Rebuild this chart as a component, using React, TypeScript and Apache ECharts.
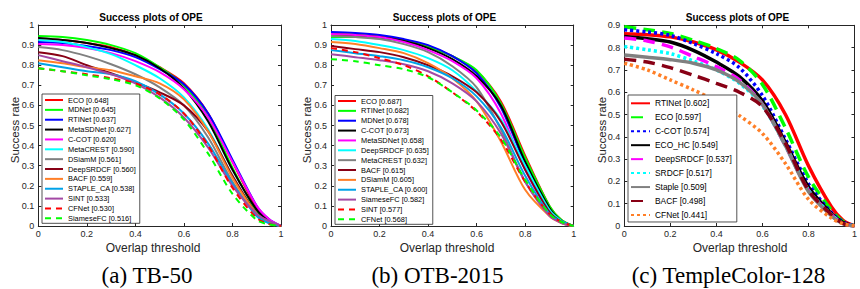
import React, { useEffect, useRef } from "react";
import * as echarts from "echarts";

// Overlap thresholds at which the success rates were read
const thresholds = [0, 0.1, 0.2, 0.3, 0.4, 0.5, 0.6, 0.7, 0.8, 0.9, 0.95, 1];

// (a) TB-50
const tb50Names = [
  "ECO [0.648]", "MDNet [0.645]", "RTINet [0.637]", "MetaSDNet [0.627]", "C-COT [0.620]",
  "MetaCREST [0.590]", "DSiamM [0.561]", "DeepSRDCF [0.560]", "BACF [0.559]",
  "STAPLE_CA [0.538]", "SINT [0.533]", "CFNet [0.530]", "SiameseFC [0.516]",
];
const a_ECO = [0.93, 0.925, 0.91, 0.89, 0.85, 0.79, 0.71, 0.56, 0.32, 0.09, 0.03, 0];
const a_MDNet = [0.945, 0.94, 0.925, 0.9, 0.86, 0.79, 0.7, 0.54, 0.29, 0.07, 0.02, 0];
const a_RTINet = [0.915, 0.91, 0.895, 0.875, 0.84, 0.78, 0.705, 0.56, 0.33, 0.1, 0.035, 0];
const a_MetaSDNet = [0.935, 0.925, 0.91, 0.885, 0.85, 0.785, 0.685, 0.52, 0.28, 0.08, 0.025, 0];
const a_CCOT = [0.905, 0.9, 0.885, 0.86, 0.82, 0.765, 0.68, 0.54, 0.32, 0.1, 0.035, 0];
const a_MetaCREST = [0.925, 0.915, 0.89, 0.855, 0.8, 0.735, 0.64, 0.48, 0.25, 0.06, 0.02, 0];
const a_DSiamM = [0.89, 0.875, 0.845, 0.805, 0.755, 0.69, 0.6, 0.44, 0.22, 0.05, 0.015, 0];
const a_DeepSRDCF = [0.865, 0.845, 0.8, 0.76, 0.715, 0.665, 0.6, 0.47, 0.25, 0.06, 0.02, 0];
const a_BACF = [0.825, 0.81, 0.79, 0.775, 0.745, 0.71, 0.63, 0.47, 0.24, 0.06, 0.02, 0];
const a_STAPLE_CA = [0.81, 0.79, 0.77, 0.755, 0.72, 0.655, 0.56, 0.41, 0.21, 0.05, 0.015, 0];
const a_SINT = [0.85, 0.82, 0.79, 0.755, 0.71, 0.64, 0.54, 0.39, 0.2, 0.06, 0.025, 0];
const a_CFNet = [0.785, 0.77, 0.755, 0.735, 0.71, 0.655, 0.56, 0.4, 0.19, 0.04, 0.01, 0];
const a_SiameseFC = [0.785, 0.77, 0.75, 0.73, 0.7, 0.635, 0.53, 0.36, 0.16, 0.03, 0.008, 0];
const tb50Values = [
  a_ECO, a_MDNet, a_RTINet, a_MetaSDNet, a_CCOT, a_MetaCREST, a_DSiamM,
  a_DeepSRDCF, a_BACF, a_STAPLE_CA, a_SINT, a_CFNet, a_SiameseFC,
];

// (b) OTB-2015
const otbNames = [
  "ECO [0.687]", "RTINet [0.682]", "MDNet [0.678]", "C-COT [0.673]", "MetaSDNet [0.658]",
  "DeepSRDCF [0.635]", "MetaCREST [0.632]", "BACF [0.615]", "DSiamM [0.605]",
  "STAPLE_CA [0.600]", "SiameseFC [0.582]", "SINT [0.577]", "CFNet [0.568]",
];
const b_ECO = [0.95, 0.945, 0.94, 0.925, 0.895, 0.845, 0.77, 0.62, 0.35, 0.1, 0.03, 0];
const b_RTINet = [0.94, 0.94, 0.935, 0.92, 0.89, 0.845, 0.775, 0.61, 0.34, 0.1, 0.03, 0];
const b_MDNet = [0.965, 0.96, 0.95, 0.93, 0.9, 0.845, 0.76, 0.59, 0.31, 0.08, 0.025, 0];
const b_CCOT = [0.955, 0.95, 0.94, 0.92, 0.885, 0.83, 0.745, 0.6, 0.32, 0.09, 0.025, 0];
const b_MetaSDNet = [0.955, 0.95, 0.94, 0.915, 0.875, 0.82, 0.735, 0.56, 0.28, 0.07, 0.02, 0];
const b_DeepSRDCF = [0.93, 0.92, 0.9, 0.875, 0.835, 0.775, 0.67, 0.53, 0.3, 0.08, 0.025, 0];
const b_MetaCREST = [0.945, 0.94, 0.93, 0.905, 0.865, 0.795, 0.69, 0.48, 0.22, 0.06, 0.015, 0];
const b_BACF = [0.895, 0.88, 0.865, 0.84, 0.8, 0.745, 0.665, 0.52, 0.28, 0.07, 0.02, 0];
const b_DSiamM = [0.915, 0.905, 0.885, 0.86, 0.81, 0.735, 0.62, 0.42, 0.18, 0.05, 0.015, 0];
const b_STAPLE_CA = [0.875, 0.86, 0.845, 0.825, 0.79, 0.735, 0.645, 0.49, 0.25, 0.06, 0.02, 0];
const b_SiameseFC = [0.855, 0.84, 0.825, 0.805, 0.77, 0.71, 0.62, 0.46, 0.22, 0.05, 0.015, 0];
const b_SINT = [0.885, 0.865, 0.835, 0.8, 0.745, 0.665, 0.57, 0.43, 0.22, 0.06, 0.02, 0];
const b_CFNet = [0.83, 0.82, 0.8, 0.78, 0.74, 0.665, 0.575, 0.44, 0.23, 0.06, 0.02, 0];
const otbValues = [
  b_ECO, b_RTINet, b_MDNet, b_CCOT, b_MetaSDNet, b_DeepSRDCF, b_MetaCREST,
  b_BACF, b_DSiamM, b_STAPLE_CA, b_SiameseFC, b_SINT, b_CFNet,
];

// (c) TempleColor-128
const tcNames = [
  "RTINet [0.602]", "ECO [0.597]", "C-COT [0.574]", "ECO_HC [0.549]", "DeepSRDCF [0.537]",
  "SRDCF [0.517]", "Staple [0.509]", "BACF [0.498]", "CFNet [0.441]",
];
const c_RTINet = [0.862, 0.858, 0.848, 0.825, 0.79, 0.735, 0.655, 0.5, 0.27, 0.085, 0.025, 0];
const c_ECO = [0.893, 0.88, 0.863, 0.833, 0.796, 0.743, 0.635, 0.44, 0.22, 0.07, 0.02, 0];
const c_CCOT = [0.88, 0.87, 0.855, 0.818, 0.773, 0.71, 0.585, 0.39, 0.19, 0.06, 0.018, 0];
const c_ECO_HC = [0.85, 0.84, 0.825, 0.788, 0.735, 0.67, 0.56, 0.375, 0.175, 0.055, 0.015, 0];
const c_DeepSRDCF = [0.843, 0.83, 0.803, 0.76, 0.715, 0.655, 0.545, 0.36, 0.16, 0.05, 0.012, 0];
const c_SRDCF = [0.805, 0.79, 0.773, 0.74, 0.7, 0.64, 0.54, 0.36, 0.16, 0.05, 0.012, 0];
const c_Staple = [0.767, 0.757, 0.746, 0.73, 0.7, 0.645, 0.545, 0.36, 0.155, 0.045, 0.01, 0];
const c_BACF = [0.748, 0.735, 0.71, 0.676, 0.64, 0.6, 0.535, 0.37, 0.16, 0.05, 0.012, 0];
const c_CFNet = [0.73, 0.7, 0.655, 0.61, 0.56, 0.495, 0.415, 0.28, 0.12, 0.035, 0.01, 0];
const tcValues = [c_RTINet, c_ECO, c_CCOT, c_ECO_HC, c_DeepSRDCF, c_SRDCF, c_Staple, c_BACF, c_CFNet];

// Styles
const otbColors = [
  "#ff0000", "#00ff00", "#0000ff", "#000000", "#ff00ff", "#00ffff", "#808080",
  "#880015", "#ff7f27", "#00a2e8", "#a349a4", "#ff0000", "#00ff00",
];
const otbDashed = [false, false, false, false, false, false, false, false, false, false, false, true, true];
const tcColors = ["#ff0000", "#00ff00", "#0000ff", "#000000", "#ff00ff", "#00ffff", "#808080", "#880015", "#ff7f27"];
const tcTypes = ["solid", "dashed", "dotted", "solid", "dashed", "dotted", "solid", "dashed", "dotted"];

const AXIS = "#262626";
const SANS = '"Liberation Sans", Arial, Helvetica, sans-serif';
const SERIF = '"Liberation Serif", "Times New Roman", serif';

const panels = [
  { left: 38.3, top: 25, width: 242.7, height: 201, ymax: 1 },
  { left: 331, top: 25, width: 242.7, height: 201, ymax: 1 },
  { left: 624.3, top: 25.3, width: 241, height: 200.7, ymax: 0.9 },
];

function buildOption() {
  const grid: any[] = [];
  const xAxis: any[] = [];
  const yAxis: any[] = [];
  panels.forEach((p, i) => {
    grid.push({ left: p.left, top: p.top, width: p.width, height: p.height, containLabel: false });
    const common = {
      type: "value",
      gridIndex: i,
      min: 0,
      splitLine: { show: false },
      axisLine: { show: true, onZero: false, lineStyle: { color: AXIS, width: 1 } },
      axisTick: { show: true, inside: true, length: 3, lineStyle: { color: AXIS } },
    };
    xAxis.push({
      ...common, position: "bottom", max: 1, interval: 0.2,
      axisLabel: { show: true, color: AXIS, fontSize: 9, fontFamily: SANS, margin: 3 },
    });
    xAxis.push({ ...common, position: "top", max: 1, interval: 0.2, axisLabel: { show: false } });
    yAxis.push({
      ...common, position: "left", max: p.ymax, interval: 0.1,
      axisLabel: { show: true, color: AXIS, fontSize: 9, fontFamily: SANS, margin: 4 },
    });
    yAxis.push({ ...common, position: "right", max: p.ymax, interval: 0.1, axisLabel: { show: false } });
  });

  const series: any[] = [];
  const addSeries = (names: string[], values: number[][], panel: number, styleFn: (k: number) => any) => {
    names.forEach((name, k) => {
      const ls = styleFn(k);
      series.push({
        type: "line",
        name,
        xAxisIndex: panel * 2,
        yAxisIndex: panel * 2,
        data: thresholds.map((t, j) => [t, values[k][j]]),
        symbol: "none",
        showSymbol: false,
        smooth: 0.3,
        lineStyle: ls,
        itemStyle: { color: ls.color },
        color: ls.color,
      });
    });
  };
  const otbStyle = (k: number) => ({
    color: otbColors[k],
    width: 2,
    type: otbDashed[k] ? [6, 5] : "solid",
  });
  addSeries(tb50Names, tb50Values, 0, otbStyle);
  addSeries(otbNames, otbValues, 1, otbStyle);
  addSeries(tcNames, tcValues, 2, (k) => ({
    color: tcColors[k],
    width: 3.5,
    type: tcTypes[k] === "dashed" ? [12, 7] : tcTypes[k] === "dotted" ? [3, 3] : "solid",
  }));

  const legendBase = {
    orient: "vertical",
    selectedMode: false,
    backgroundColor: "#ffffff",
    borderColor: AXIS,
    borderWidth: 0.8,
    itemStyle: { opacity: 0, borderWidth: 0 },
  };
  const legend = [
    {
      ...legendBase, data: tb50Names, left: 42, top: 94,
      padding: [2, 4, 1, 2], itemWidth: 18, itemHeight: 8, itemGap: 1.86,
      textStyle: { fontSize: 7.4, lineHeight: 8, color: "#000", fontFamily: SANS },
    },
    {
      ...legendBase, data: otbNames, left: 335, top: 95.5,
      padding: [1.5, 4, 1, 2], itemWidth: 18, itemHeight: 8, itemGap: 1.86,
      textStyle: { fontSize: 7.4, lineHeight: 8, color: "#000", fontFamily: SANS },
    },
    {
      ...legendBase, data: tcNames, left: 628, top: 95,
      padding: [3.3, 5, 2, 2], itemWidth: 19, itemHeight: 10, itemGap: 3.96,
      textStyle: { fontSize: 8.4, lineHeight: 10, color: "#000", fontFamily: SANS },
    },
  ];

  const titleCenters = [151, 444.5, 737.5];
  const xLabelCenters = [153, 447, 740];
  const yLabelX = [15.3, 307.3, 601.7];
  const captions = ["(a) TB-50", "(b) OTB-2015", "(c) TempleColor-128"];
  const captionCenters = [147, 437.5, 728.5];

  const graphic: any[] = [];
  for (let i = 0; i < 3; i++) {
    graphic.push({
      type: "text", x: titleCenters[i], y: 17.8, silent: true,
      style: { text: "Success plots of OPE", fill: "#000", font: `bold 10px ${SANS}`, align: "center", verticalAlign: "middle" },
    });
    graphic.push({
      type: "text", x: xLabelCenters[i], y: 248, silent: true,
      style: { text: "Overlap threshold", fill: AXIS, font: `12px ${SANS}`, align: "center", verticalAlign: "middle" },
    });
    graphic.push({
      type: "text", x: yLabelX[i], y: 130, rotation: Math.PI / 2, silent: true,
      style: { text: "Success rate", fill: AXIS, font: `11.5px ${SANS}`, align: "center", verticalAlign: "middle" },
    });
    graphic.push({
      type: "text", x: captionCenters[i], y: 275, silent: true,
      style: { text: captions[i], fill: "#000", font: `23px ${SERIF}`, align: "center", verticalAlign: "middle" },
    });
  }

  return {
    animation: false,
    backgroundColor: "#ffffff",
    grid,
    xAxis,
    yAxis,
    legend,
    series,
    graphic,
  };
}

export default function App() {
  const ref = useRef<HTMLDivElement>(null);
  useEffect(() => {
    if (!ref.current) return;
    const chart = echarts.init(ref.current, undefined, { renderer: "svg" });
    chart.setOption(buildOption() as any);
    return () => chart.dispose();
  }, []);
  return (
    <div
      ref={ref}
      style={{ position: "fixed", left: 0, top: 0, width: 860, height: 289, background: "#fff" }}
    />
  );
}
